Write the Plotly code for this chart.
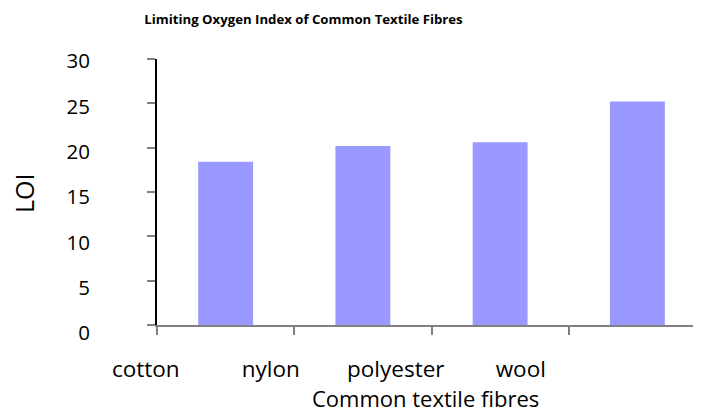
import plotly.graph_objects as go

categories = ["cotton", "nylon", "polyester", "wool"]
loi_values = [18.4, 20.2, 20.6, 25.2]
y_tick_values = [0, 5, 10, 15, 20, 25, 30]
y_tick_labels = ["0", "5", "10", "15", "20", "25", "30"]

W, H = 701, 414
OFF = 8  # page body margin: window px = figure px + 8
ML, MR, MT, MB = 92, 3, 51, 77
PW, PH = W - ML - MR, H - MT - MB
FONT = "Open Sans"
bar_positions = list(range(len(categories)))
boundaries = [i - 0.5 for i in range(len(categories) + 1)]


def px_x(wx):
    return (wx - OFF - ML) / PW


def px_y(wy):
    return (H - MB - (wy - OFF)) / PH


fig = go.Figure()
fig.add_trace(go.Bar(
    x=bar_positions, y=loi_values, width=0.4,
    marker=dict(color="#9999FF", line=dict(width=0)),
    xaxis="x", yaxis="y", hoverinfo="skip", showlegend=False,
))
# helper trace so the label axes are drawn
fig.add_trace(go.Scatter(x=[None], y=[None], xaxis="x2", yaxis="y2",
                         showlegend=False, hoverinfo="skip"))

fig.update_layout(
    width=W, height=H,
    margin=dict(l=ML, r=MR, t=MT, b=MB),
    paper_bgcolor="white", plot_bgcolor="rgba(0,0,0,0)",
    font=dict(family=FONT, color="black"),
    title=dict(text="<b>Limiting Oxygen Index of Common Textile Fibres</b>",
               x=(303.5 - OFF) / W, xref="container", xanchor="center",
               y=1 - (19.5 - OFF) / H, yref="container", yanchor="middle",
               font=dict(size=13.2, family=FONT, color="black")),
    xaxis=dict(domain=[px_x(157), 1], range=[-0.5, 3.5], anchor="y",
               showgrid=False, zeroline=False, showline=True,
               linecolor="#808080", linewidth=1.5,
               tickmode="array", tickvals=boundaries, ticks="outside",
               ticklen=8, tickcolor="#808080", tickwidth=1.5,
               showticklabels=False),
    yaxis=dict(domain=[px_y(325), 1], range=[0, 30], anchor="x",
               showgrid=False, zeroline=False, showline=True,
               linecolor="black", linewidth=1.5,
               tickmode="array", tickvals=y_tick_values, ticks="outside",
               ticklen=8, tickcolor="#808080", tickwidth=1.5,
               showticklabels=False),
    xaxis2=dict(domain=[0, 1],
                range=[(ML + OFF - 145.75) / 125, (ML + OFF + PW - 145.75) / 125],
                anchor="free", position=px_y(325),
                showgrid=False, zeroline=False, showline=False, ticks="",
                tickmode="array", tickvals=bar_positions, ticktext=categories,
                tickfont=dict(size=22.5, family=FONT, color="black"),
                ticklabelstandoff=28),
    yaxis2=dict(domain=[0, 1],
                range=[(333.3 - (MT + OFF + PH)) / 9.07, (333.3 - (MT + OFF)) / 9.07],
                anchor="free", position=px_x(157),
                showgrid=False, zeroline=False, showline=False, ticks="",
                tickmode="array", tickvals=y_tick_values, ticktext=y_tick_labels,
                tickfont=dict(size=20.5, family=FONT, color="black"),
                ticklabelstandoff=67),
    annotations=[
        dict(text="Common textile fibres", x=px_x(425.5), xref="paper",
             y=px_y(398), yref="paper", xanchor="center", yanchor="middle",
             showarrow=False, font=dict(size=22, family=FONT, color="black")),
        dict(text="LOI", x=px_x(24), xref="paper", y=px_y(194), yref="paper",
             xanchor="center", yanchor="middle", textangle=-90,
             showarrow=False, font=dict(size=25, family=FONT, color="black")),
    ],
)

fig.write_html("out.html")
